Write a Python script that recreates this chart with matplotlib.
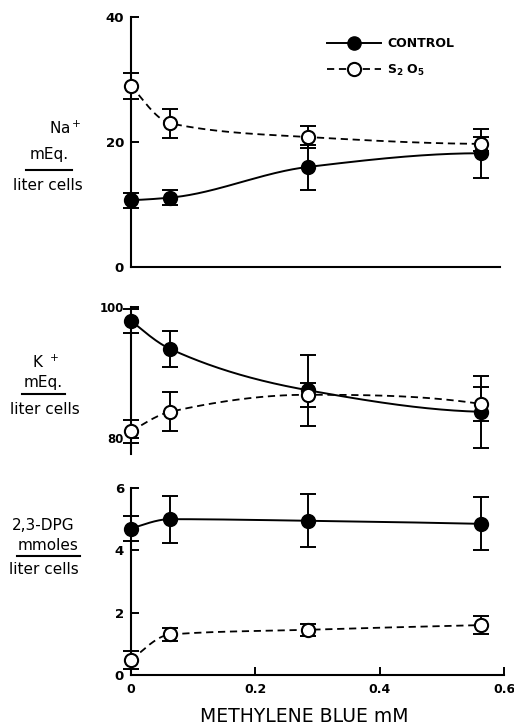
import numpy as np
import matplotlib
matplotlib.use("Agg")
import matplotlib.pyplot as plt
from matplotlib.lines import Line2D

plt.rcParams['font.family'] = ['DejaVu Sans']
plt.rcParams['mathtext.default'] = 'regular'

# methylene blue concentration (mM)
conc = [0.0, 0.063, 0.284, 0.563]

# Na+ (mEq / liter cells)
na_control = [10.7, 11.1, 16.0, 18.2]
na_control_err = [1.2, 1.2, 3.6, 3.9]
na_s2o5 = [29.0, 23.0, 20.8, 19.7]
na_s2o5_err = [2.1, 2.3, 1.7, 1.1]

# K+ (mEq / liter cells)
k_control = [97.9, 93.6, 87.3, 84.0]
k_control_err = [1.8, 2.8, 5.4, 5.5]
k_s2o5 = [81.0, 84.0, 86.6, 85.2]
k_s2o5_err = [1.7, 3.0, 1.8, 2.6]

# 2,3-DPG (mmoles / liter cells)
dpg_control = [4.7, 5.0, 4.95, 4.85]
dpg_control_err = [0.4, 0.75, 0.85, 0.85]
dpg_s2o5 = [0.48, 1.3, 1.45, 1.6]
dpg_s2o5_err = [0.3, 0.2, 0.2, 0.3]

x_ticks = [0, 0.2, 0.4, 0.6]
x_tick_labels = ["0", "0.2", "0.4", "0.6"]

W, H = 514, 728


def pchip_curve(x, y, n=300):
    # monotone cubic through the points, to get the hand drawn smooth look
    x = np.asarray(x, float)
    y = np.asarray(y, float)
    h = np.diff(x)
    d = np.diff(y) / h
    m = np.zeros_like(y)
    for k in range(1, len(x) - 1):
        if d[k - 1] * d[k] > 0:
            w1 = 2 * h[k] + h[k - 1]
            w2 = h[k] + 2 * h[k - 1]
            m[k] = (w1 + w2) / (w1 / d[k - 1] + w2 / d[k])

    def end_slope(h0, h1, d0, d1):
        s = ((2 * h0 + h1) * d0 - h0 * d1) / (h0 + h1)
        if np.sign(s) != np.sign(d0):
            s = 0.0
        elif np.sign(d0) != np.sign(d1) and abs(s) > abs(3 * d0):
            s = 3 * d0
        return s

    m[0] = end_slope(h[0], h[1], d[0], d[1])
    m[-1] = end_slope(h[-1], h[-2], d[-1], d[-2])
    xs = np.linspace(x[0], x[-1], n)
    idx = np.clip(np.searchsorted(x, xs) - 1, 0, len(x) - 2)
    t = (xs - x[idx]) / h[idx]
    h00 = 2 * t**3 - 3 * t**2 + 1
    h10 = t**3 - 2 * t**2 + t
    h01 = -2 * t**3 + 3 * t**2
    h11 = t**3 - t**2
    ys = h00 * y[idx] + h10 * h[idx] * m[idx] + h01 * y[idx + 1] + h11 * h[idx] * m[idx + 1]
    return xs, ys


def draw_series(ax, y, err, filled):
    xs, ys = pchip_curve(conc, y)
    if filled:
        ax.plot(xs, ys, color="black", lw=1.4, zorder=2)
    else:
        ax.plot(xs, ys, color="black", lw=1.3, ls=(0, (4, 2.6)), zorder=2)
    eb = ax.errorbar(conc, y, yerr=err, fmt="none", ecolor="black",
                     elinewidth=1.4, capsize=6, capthick=1.4, zorder=3)
    for art in list(eb.lines[1]) + list(eb.lines[2]):
        art.set_clip_on(False)
    ax.plot(conc, y, "o", ms=9.5, mew=1.5, mec="black",
            mfc="black" if filled else "white", zorder=4, clip_on=False)


def style_axis(ax):
    for s in ["top", "right"]:
        ax.spines[s].set_visible(False)
    ax.spines["left"].set_linewidth(1.5)
    ax.spines["bottom"].set_linewidth(1.5)
    ax.tick_params(axis="y", direction="in", length=6, width=1.4, pad=5,
                   labelsize=9.5)
    ax.set_xlim(0, 0.6)


def bold_ticks(ax):
    for lbl in ax.get_yticklabels() + ax.get_xticklabels():
        lbl.set_fontweight("bold")


def fig_rect(left, top, right, bottom):
    return [left / W, 1 - bottom / H, (right - left) / W, (bottom - top) / H]


def ylabel_block(lines, xs, ys, underline, size=11):
    for txt, xx, yy in zip(lines, xs, ys):
        fig.text(xx / W, 1 - yy / H, txt, ha="center", va="center", fontsize=size)
    x0, x1, yl = underline
    fig.lines.append(Line2D([x0 / W, x1 / W], [1 - yl / H, 1 - yl / H],
                            color="black", lw=1.5, zorder=5,
                            transform=fig.transFigure, figure=fig))


fig = plt.figure(figsize=(W / 100, H / 100), dpi=100)

# --- Na+ panel
ax1 = fig.add_axes(fig_rect(131, 17, 504, 267))
draw_series(ax1, na_control, na_control_err, True)
draw_series(ax1, na_s2o5, na_s2o5_err, False)
style_axis(ax1)
ax1.set_ylim(0, 40)
ax1.set_yticks([0, 20, 40])
ax1.spines["bottom"].set_bounds(0, 0.593)
ax1.set_xticks([])
bold_ticks(ax1)
handles = [
    Line2D([], [], color="black", lw=1.4, marker="o", ms=9.5, mfc="black", mec="black"),
    Line2D([], [], color="black", lw=1.3, ls=(0, (4, 2.6)), marker="o", ms=9.5,
           mfc="white", mec="black", mew=1.5),
]
ax1.legend(handles, ["CONTROL", "S$_2$ O$_5$"], loc="upper left",
           bbox_to_anchor=(0.51, 0.945), frameon=False, handlelength=4.3,
           handletextpad=0.5, labelspacing=1.0, borderpad=0,
           prop={"size": 9, "weight": "bold"})
ylabel_block(["Na$^+$", "mEq.", "liter cells"], [65, 49, 48], [128, 155, 185],
             (26, 72, 170))

# --- K+ panel
ax2 = fig.add_axes(fig_rect(131, 307, 504, 438))
draw_series(ax2, k_control, k_control_err, True)
draw_series(ax2, k_s2o5, k_s2o5_err, False)
style_axis(ax2)
ax2.spines["bottom"].set_visible(False)
ax2.set_ylim(80, 100)
ax2.spines["left"].set_bounds(77.6, 100)
ax2.spines["left"].set_clip_on(False)
ax2.set_yticks([80, 100])
ax2.set_xticks([])
ax2.tick_params(axis="y", labelsize=8.5)
bold_ticks(ax2)
ylabel_block(["K $^+$", "mEq.", "liter cells"], [45, 43, 45], [362, 382, 410],
             (22, 65, 394))

# --- 2,3-DPG panel
ax3 = fig.add_axes(fig_rect(131, 488, 504, 675))
draw_series(ax3, dpg_control, dpg_control_err, True)
draw_series(ax3, dpg_s2o5, dpg_s2o5_err, False)
style_axis(ax3)
ax3.set_ylim(0, 6)
ax3.set_yticks([0, 2, 4, 6])
ax3.set_xticks(x_ticks)
ax3.set_xticklabels(x_tick_labels, fontsize=9)
ax3.tick_params(axis="x", direction="in", length=6, width=1.4, pad=6)
bold_ticks(ax3)
ax3.set_xlabel("METHYLENE BLUE mM", fontsize=13.5)
ax3.xaxis.set_label_coords((304 - 131) / (504 - 131), -0.17)
ylabel_block(["2,3-DPG", "mmoles", "liter cells"], [43, 48, 44], [525, 546, 569],
             (17, 80, 556))

fig.savefig("out.png", dpi=100)
